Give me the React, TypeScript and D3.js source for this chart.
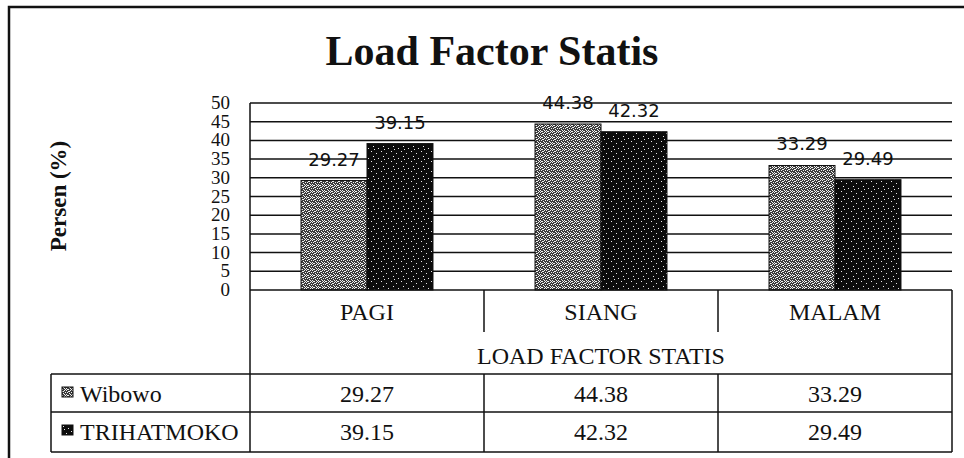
import * as d3 from "d3"

const categories = ["PAGI", "SIANG", "MALAM"]
const seriesNames = ["Wibowo", "TRIHATMOKO"]
const wibowo = [29.27, 44.38, 33.29]
const trihatmoko = [39.15, 42.32, 29.49]
const yTicks = [0, 5, 10, 15, 20, 25, 30, 35, 40, 45, 50]

const W = 964
const H = 458
const plotLeft = 250
const plotRight = 952
const plotTop = 103
const plotBottom = 290
const serif = "'Liberation Serif', 'Times New Roman', serif"
const sans = "'DejaVu Sans', Verdana, sans-serif"

// speckle positions for the scanned-looking fills (fixed, not data)
const greySpecks = [
  [0, 0], [2, 1], [4, 0], [1, 2], [3, 3], [5, 2], [0, 4], [2, 5], [4, 4], [1, 5], [5, 5], [3, 1],
]
const darkSpecks = [[1, 1], [6, 3], [3, 6], [8, 8], [4, 9]]

export default function App() {
  const x0 = d3.scaleBand<string>().domain(categories).range([plotLeft, plotRight])
  const cw = x0.bandwidth()
  const x1 = d3.scaleBand<string>().domain(seriesNames).range([cw * 0.218, cw * 0.782])
  const y = d3.scaleLinear().domain([0, 50]).range([plotBottom, plotTop])

  const values = [wibowo, trihatmoko]
  const fills = ["url(#pGrey)", "url(#pDark)"]

  const row1 = 332
  const row2 = 374
  const row3 = 412
  const row4 = 452
  const legendLeft = 51
  const tableFont = 24

  return (
    <svg width={W} height={H} style={{ position: "fixed", left: 0, top: 0, background: "#fff" }}>
      <defs>
        <pattern id="pGrey" width="6" height="6" patternUnits="userSpaceOnUse">
          <rect width="6" height="6" fill="#3c3c3c" />
          {greySpecks.map(([a, b], i) => (
            <rect key={i} x={a} y={b} width="1" height="1" fill="#f2f2f2" />
          ))}
        </pattern>
        <pattern id="pDark" width="10" height="10" patternUnits="userSpaceOnUse">
          <rect width="10" height="10" fill="#0c0c0c" />
          {darkSpecks.map(([a, b], i) => (
            <rect key={i} x={a} y={b} width="1" height="1" fill="#e8e8e8" />
          ))}
        </pattern>
      </defs>

      {/* outer frame */}
      <path d={`M9,${H} V7 H${W}`} fill="none" stroke="#111" strokeWidth={2.5} />

      <text x={492} y={65} textAnchor="middle" fontFamily={serif} fontWeight="bold" fontSize={42} fill="#111">
        Load Factor Statis
      </text>

      <text
        transform="translate(66,196) rotate(-90)"
        textAnchor="middle"
        fontFamily={serif}
        fontWeight="bold"
        fontSize={23}
        fill="#111"
      >
        Persen (%)
      </text>

      {/* gridlines */}
      {yTicks.slice(1).map((t) => (
        <line key={t} x1={plotLeft} x2={plotRight} y1={y(t)} y2={y(t)} stroke="#111" strokeWidth={1.5} />
      ))}
      <line x1={plotLeft} x2={plotLeft} y1={plotTop} y2={row4} stroke="#111" strokeWidth={1.5} />

      {yTicks.map((t) => (
        <text key={t} x={230} y={y(t) + 6} textAnchor="end" fontFamily={serif} fontSize={19} fill="#111">
          {t}
        </text>
      ))}

      {/* bars */}
      {categories.map((c, ci) =>
        seriesNames.map((s, si) => {
          const v = values[si][ci]
          const bx = (x0(c) as number) + (x1(s) as number)
          return (
            <g key={c + s}>
              <rect
                x={bx}
                y={y(v)}
                width={x1.bandwidth()}
                height={plotBottom - y(v)}
                fill={fills[si]}
                stroke="#111"
                strokeWidth={1}
              />
              <text
                x={bx + x1.bandwidth() / 2}
                y={y(v) - 15}
                textAnchor="middle"
                fontFamily={sans}
                fontSize={18}
                fill="#111"
              >
                {v.toFixed(2)}
              </text>
            </g>
          )
        })
      )}

      {/* data table */}
      <line x1={plotLeft} x2={plotRight} y1={plotBottom} y2={plotBottom} stroke="#111" strokeWidth={1.5} />
      <line x1={plotRight} x2={plotRight} y1={plotBottom} y2={row4} stroke="#111" strokeWidth={1.5} />
      {categories.slice(1).map((c) => (
        <line key={c} x1={x0(c)} x2={x0(c)} y1={plotBottom} y2={row1} stroke="#111" strokeWidth={1.5} />
      ))}
      {categories.map((c) => (
        <text
          key={c}
          x={(x0(c) as number) + cw / 2}
          y={320}
          textAnchor="middle"
          fontFamily={serif}
          fontSize={tableFont}
          fill="#111"
        >
          {c}
        </text>
      ))}
      <text x={(plotLeft + plotRight) / 2} y={364} textAnchor="middle" fontFamily={serif} fontSize={tableFont} fill="#111">
        LOAD FACTOR STATIS
      </text>

      {[row2, row3, row4].map((ry) => (
        <line key={ry} x1={legendLeft} x2={plotRight} y1={ry} y2={ry} stroke="#111" strokeWidth={1.5} />
      ))}
      <line x1={legendLeft} x2={legendLeft} y1={row2} y2={row4} stroke="#111" strokeWidth={1.5} />
      {categories.slice(1).map((c) => (
        <line key={c} x1={x0(c)} x2={x0(c)} y1={row2} y2={row4} stroke="#111" strokeWidth={1.5} />
      ))}

      {seriesNames.map((s, si) => {
        const top = si === 0 ? row2 : row3
        const base = top + 28
        return (
          <g key={s}>
            <rect x={62} y={top + 13} width={11} height={10} fill={fills[si]} stroke="#111" strokeWidth={1} />
            <text x={80} y={base} fontFamily={serif} fontSize={tableFont} fill="#111">
              {s}
            </text>
            {categories.map((c, ci) => (
              <text
                key={c}
                x={(x0(c) as number) + cw / 2}
                y={base}
                textAnchor="middle"
                fontFamily={serif}
                fontSize={tableFont}
                fill="#111"
              >
                {values[si][ci].toFixed(2)}
              </text>
            ))}
          </g>
        )
      })}
    </svg>
  )
}
